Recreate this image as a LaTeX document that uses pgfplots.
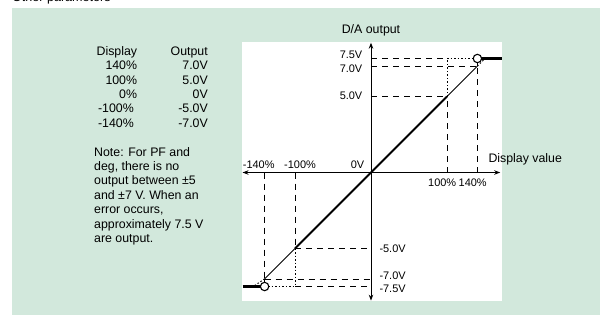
\documentclass[border=0pt]{standalone}
\usepackage{fontspec}
\setmainfont{Liberation Sans}
\usepackage{pgfplots}
\pgfplotsset{compat=1.18}
\usetikzlibrary{arrows.meta}
\definecolor{bggreen}{HTML}{D2E8DC}
\begin{document}
\begin{tikzpicture}[x=1bp,y=1bp]
\useasboundingbox (-371,-142.5) rectangle (229,172.5);
\fill[bggreen] (-359,-142.5) rectangle (229,164.5);
\fill[white] (-129,-128.2) rectangle (130.7,130.8);
\node[anchor=base west, font=\fontsize{12.6}{14}\selectfont, inner sep=0] at (-359,171.2) {Other parameters};
\begin{axis}[at={(0,0)}, anchor=origin, x=0.76bp, y=15.2bp,
  xmin=-169, xmax=170, ymin=-8.43, ymax=8.54,
  axis lines=middle, enlargelimits=false, xtick=\empty, ytick=\empty,
  axis line style={line width=1bp, {Stealth[length=6bp,width=4.5bp]}-{Stealth[length=6bp,width=4.5bp]}},
  clip=false,
  dsh/.style={black, line width=0.8bp, dash pattern=on 6bp off 5bp},
  dtt/.style={black, line width=1bp, dash pattern=on 1.5bp off 2bp}]
% dashed guides
\addplot[dsh] coordinates {(0,7.5) (100,7.5)};
\addplot[dsh] coordinates {(0,7) (140,7)};
\addplot[dsh] coordinates {(0,5) (100,5)};
\addplot[dsh] coordinates {(100,0) (100,5)};
\addplot[dsh] coordinates {(140,0) (140,7)};
\addplot[dsh] coordinates {(-100,-5) (0,-5)};
\addplot[dsh] coordinates {(-140,-7) (0,-7)};
\addplot[dsh] coordinates {(-100,-7.5) (0,-7.5)};
\addplot[dsh] coordinates {(-100,0) (-100,-5)};
\addplot[dsh] coordinates {(-140,0) (-140,-7)};
% dotted guides
\addplot[dtt] coordinates {(100,7.5) (140,7.5)};
\addplot[dtt] coordinates {(100,5) (100,7.5)};
\addplot[dtt] coordinates {(140,7) (150,7.5)};
\addplot[dtt] coordinates {(-140,-7.5) (-100,-7.5)};
\addplot[dtt] coordinates {(-100,-5) (-100,-7.5)};
\addplot[dtt] coordinates {(-140,-7) (-155,-7.5)};
% characteristic
\addplot[black, line width=1bp] coordinates {(100,5) (140,7)};
\addplot[black, line width=1bp] coordinates {(-140,-7) (-100,-5)};
\addplot[black, line width=1bp] coordinates {(140,7) (140,7.5)};
\addplot[black, line width=1bp] coordinates {(-140,-7) (-140,-7.5)};
\addplot[black, line width=2.1bp] coordinates {(-100,-5) (100,5)};
\addplot[black, line width=2.6bp] coordinates {(140,7.5) (172,7.5)};
\addplot[black, line width=2.6bp] coordinates {(-169,-7.5) (-140,-7.5)};
\addplot[only marks, mark=*, mark size=4.2bp, mark options={fill=white, draw=black, line width=1.1bp}] coordinates {(140,7.5) (-140,-7.5)};
\end{axis}
% axis texts
\begin{scope}[every node/.style={inner sep=0, font=\fontsize{11}{13}\selectfont}]
\node[anchor=base west] at (-128.3,4.2) {-140\%};
\node[anchor=base west] at (-87,4.2) {-100\%};
\node[anchor=base west] at (-20.3,4.2) {0V};
\node[anchor=base west] at (57,-14.2) {100\%};
\node[anchor=base west] at (87.5,-14.2) {140\%};
\node[anchor=base east] at (-8.5,114.2) {7.5V};
\node[anchor=base east] at (-8.5,100.5) {7.0V};
\node[anchor=base east] at (-8.5,72.8) {5.0V};
\node[anchor=base west] at (8.3,-79.6) {-5.0V};
\node[anchor=base west] at (8.3,-106.6) {-7.0V};
\node[anchor=base west] at (8.3,-119.6) {-7.5V};
\end{scope}
\begin{scope}[every node/.style={inner sep=0, font=\fontsize{12.4}{14.4}\selectfont}]
\node[anchor=base] at (0,139.2) {D/A output};
\node[anchor=base west] at (117.3,9.8) {Display value};
% table
\node[anchor=base east] at (-233.7,117.2) {Display};
\node[anchor=base east] at (-163,117.2) {Output};
\node[anchor=base east] at (-233.7,102.8) {140\%};
\node[anchor=base east] at (-163,102.8) {7.0V};
\node[anchor=base east] at (-233.7,88.4) {100\%};
\node[anchor=base east] at (-163,88.4) {5.0V};
\node[anchor=base east] at (-233.7,74.0) {0\%};
\node[anchor=base east] at (-163,74.0) {0V};
\node[anchor=base east] at (-237,59.6) {-100\%};
\node[anchor=base east] at (-163,59.6) {-5.0V};
\node[anchor=base east] at (-237,45.2) {-140\%};
\node[anchor=base east] at (-163,45.2) {-7.0V};
% note
\node[anchor=base west] at (-277,16.5) {Note: For PF and};
\node[anchor=base west] at (-277,2.1) {deg, there is no};
\node[anchor=base west] at (-277,-12.3) {output between ±5};
\node[anchor=base west] at (-277,-26.7) {and ±7 V. When an};
\node[anchor=base west] at (-277,-41.1) {error occurs,};
\node[anchor=base west] at (-277,-55.5) {approximately 7.5 V};
\node[anchor=base west] at (-277,-69.9) {are output.};
\end{scope}
\end{tikzpicture}
\end{document}
